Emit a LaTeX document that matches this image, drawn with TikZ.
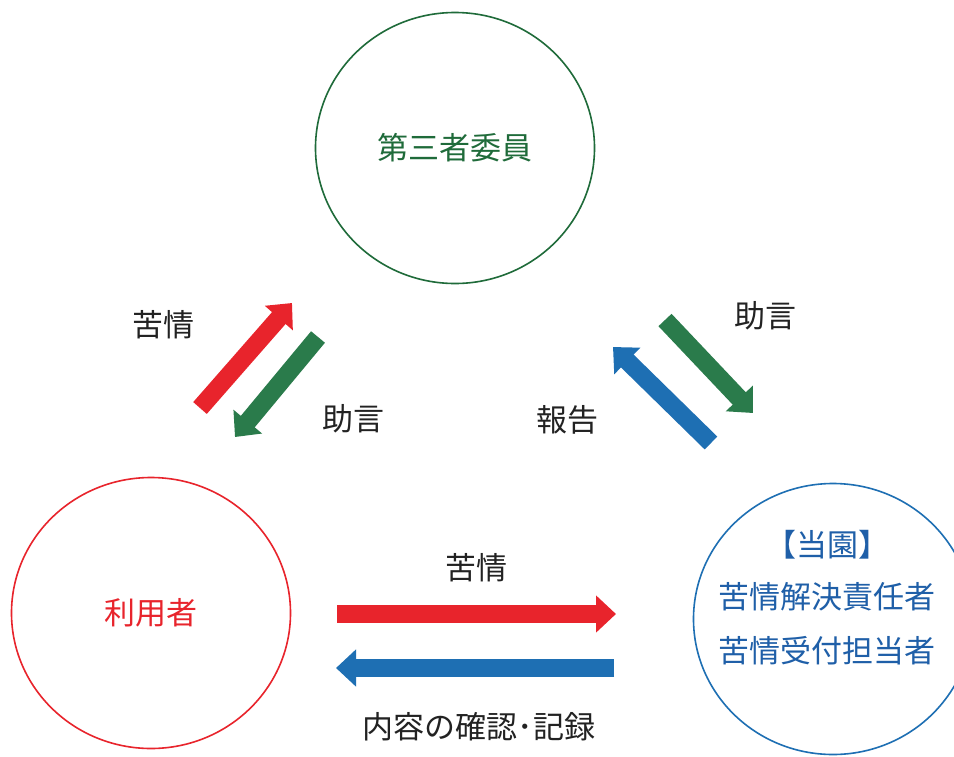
\documentclass[tikz,border=0pt]{standalone}
\usepackage{fontspec}
\setmainfont{Noto Sans CJK JP}
\usetikzlibrary{arrows.meta,shapes.geometric}
\definecolor{cred}{HTML}{E8242C}
\definecolor{cgreen}{HTML}{1F6B3A}
\definecolor{agreen}{HTML}{2A7B4B}
\definecolor{cblue}{HTML}{1E6FB3}
\definecolor{tblue}{HTML}{1F5FA8}
\definecolor{tgray}{HTML}{222222}
\tikzset{
  party/.style={ellipse, draw, line width=1.6pt, minimum width=279pt, minimum height=271pt, inner sep=0pt},
  txt/.style={font=\fontsize{31}{37}\selectfont, inner sep=0pt},
  fat/.style={line width=18pt, -{Triangle[length=20pt,width=36pt]}},
}
\begin{document}
\begin{tikzpicture}[x=1pt,y=-1pt]
\useasboundingbox (0,0) rectangle (954,756);
\fill[white] (0,0) rectangle (954,756);
\clip (0,0) rectangle (954,756);
% circles
\node[party, draw=cgreen, text=cgreen, txt] (top) at (455,148) {第三者委員};
\node[party, draw=cred, text=cred, txt] (user) at (151,613) {利用者};
\node[party, draw=cblue] (org) at (833,619) {};
\node[txt, text=tblue] (orgA) at (827,545) {【当園】};
\node[txt, text=tblue] (orgB) at (827,597) {苦情解決責任者};
\node[txt, text=tblue] (orgC) at (827,651) {苦情受付担当者};
% arrow end points
\coordinate (r1s) at (200,408); \coordinate (r1e) at (292,303);
\coordinate (g1s) at (318,337); \coordinate (g1e) at (235,437);
\coordinate (g2s) at (665,320); \coordinate (g2e) at (753,413);
\coordinate (b2s) at (711,443); \coordinate (b2e) at (613,347);
\coordinate (r3s) at (337,614); \coordinate (r3e) at (616,614);
\coordinate (b3s) at (614,668); \coordinate (b3e) at (336,668);
% arrows
\draw[fat, draw=cred, color=cred] (r1s) -- (r1e);
\draw[fat, draw=agreen, color=agreen] (g1s) -- (g1e);
\draw[fat, draw=agreen, color=agreen] (g2s) -- (g2e);
\draw[fat, draw=cblue, color=cblue] (b2s) -- (b2e);
\draw[fat, draw=cred, color=cred] (r3s) -- (r3e);
\draw[fat, draw=cblue, color=cblue] (b3s) -- (b3e);
% labels
\node[txt, text=tgray] (l1) at (163,325) {苦情};
\node[txt, text=tgray] (l2) at (353,419) {助言};
\node[txt, text=tgray] (l3) at (567,420) {報告};
\node[txt, text=tgray] (l4) at (765,316) {助言};
\node[txt, text=tgray] (l5) at (476,568) {苦情};
\node[txt, text=tgray] (l6) at (479,727) {内容の確認･記録};
\end{tikzpicture}
\end{document}
